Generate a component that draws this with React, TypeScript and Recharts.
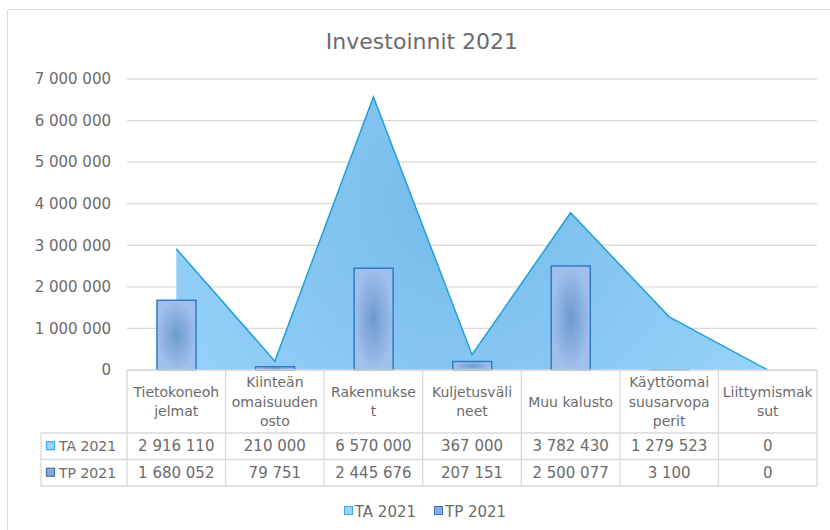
import { Area, Bar, CartesianGrid, ComposedChart, Legend, XAxis, YAxis } from "recharts"

const categories = [
  "Tietokoneohjelmat",
  "Kiinteän omaisuuden osto",
  "Rakennukset",
  "Kuljetusvälineet",
  "Muu kalusto",
  "Käyttöomaisuusarvopaperit",
  "Liittymismaksut",
]

// wrapped header labels, as in the data table
const categoryLines = [
  ["Tietokoneoh", "jelmat"],
  ["Kiinteän", "omaisuuden", "osto"],
  ["Rakennukse", "t"],
  ["Kuljetusväli", "neet"],
  ["Muu kalusto"],
  ["Käyttöomai", "suusarvopa", "perit"],
  ["Liittymismak", "sut"],
]

const ta2021 = [2916110, 210000, 6570000, 367000, 3782430, 1279523, 0]
const tp2021 = [1680052, 79751, 2445676, 207151, 2500077, 3100, 0]

const yTicks = [0, 1000000, 2000000, 3000000, 4000000, 5000000, 6000000, 7000000]

const data = categories.map((name, i) => ({ name, ta: ta2021[i], tp: tp2021[i] }))

const W = 830
const H = 530
const PLOT_LEFT = 127
const PLOT_RIGHT = 817
const PLOT_TOP = 79
const PLOT_BOTTOM = 370
const Y_AXIS_W = 110
const X_AXIS_H = 120
const BAND = (PLOT_RIGHT - PLOT_LEFT) / categories.length
const ROW_HEAD = 433
const ROW_TA = 459.5
const ROW_TP = 486
const TABLE_LEFT = 41

const FONT = "'DejaVu Sans', sans-serif"
const TEXT = "#6b6b6b"
const LINE = "#d9d9d9"

const fmt = (n: number) => n.toString().replace(/\B(?=(\d{3})+(?!\d))/g, " ")

function Key({ x, y, fill, stroke }: { x: number; y: number; fill: string; stroke: string }) {
  return <rect x={x} y={y - 4.5} width={8} height={8} fill={fill} stroke={stroke} strokeWidth={1.2} />
}

function TableColumn(props: any) {
  const i: number = props.index ?? props.payload.index
  const cx: number = props.x
  const x0 = cx - BAND / 2
  const x1 = cx + BAND / 2
  const lines = categoryLines[i]
  const lh = 19.5
  const startY = (PLOT_BOTTOM + ROW_HEAD) / 2 - ((lines.length - 1) * lh) / 2
  const taY = (ROW_HEAD + ROW_TA) / 2
  const tpY = (ROW_TA + ROW_TP) / 2

  return (
    <g fontFamily={FONT} fill={TEXT}>
      {i === 0 && (
        <g>
          <line x1={TABLE_LEFT} y1={ROW_HEAD} x2={TABLE_LEFT} y2={ROW_TP} stroke={LINE} strokeWidth={1.3} />
          <line x1={TABLE_LEFT} y1={ROW_HEAD} x2={x0} y2={ROW_HEAD} stroke={LINE} strokeWidth={1.3} />
          <line x1={TABLE_LEFT} y1={ROW_TA} x2={x0} y2={ROW_TA} stroke={LINE} strokeWidth={1.3} />
          <line x1={TABLE_LEFT} y1={ROW_TP} x2={x0} y2={ROW_TP} stroke={LINE} strokeWidth={1.3} />
          <Key x={46.5} y={taY} fill="#9dd3f7" stroke="#35a9e0" />
          <text x={59} y={taY} dominantBaseline="central" fontSize={14}>TA 2021</text>
          <Key x={46.5} y={tpY} fill="#8eaad9" stroke="#3b73b8" />
          <text x={59} y={tpY} dominantBaseline="central" fontSize={14}>TP 2021</text>
        </g>
      )}
      <line x1={x0} y1={PLOT_BOTTOM} x2={x1} y2={PLOT_BOTTOM} stroke={LINE} strokeWidth={1.3} />
      <line x1={x0} y1={PLOT_BOTTOM} x2={x0} y2={ROW_TP} stroke={LINE} strokeWidth={1.3} />
      {i === categories.length - 1 && (
        <line x1={x1} y1={PLOT_BOTTOM} x2={x1} y2={ROW_TP} stroke={LINE} strokeWidth={1.3} />
      )}
      <line x1={x0} y1={ROW_HEAD} x2={x1} y2={ROW_HEAD} stroke={LINE} strokeWidth={1.3} />
      <line x1={x0} y1={ROW_TA} x2={x1} y2={ROW_TA} stroke={LINE} strokeWidth={1.3} />
      <line x1={x0} y1={ROW_TP} x2={x1} y2={ROW_TP} stroke={LINE} strokeWidth={1.3} />
      {lines.map((t, k) => (
        <text key={k} x={cx} y={startY + k * lh} textAnchor="middle" dominantBaseline="central" fontSize={14}>
          {t}
        </text>
      ))}
      <text x={cx} y={taY} textAnchor="middle" dominantBaseline="central" fontSize={15}>
        {fmt(ta2021[i])}
      </text>
      <text x={cx} y={tpY} textAnchor="middle" dominantBaseline="central" fontSize={15}>
        {fmt(tp2021[i])}
      </text>
    </g>
  )
}

function LegendContent() {
  const key = (bg: string, border: string) => (
    <span
      style={{
        width: 7,
        height: 7,
        background: bg,
        border: `1.2px solid ${border}`,
        position: "relative",
        top: -1.5,
      }}
    />
  )
  return (
    <div
      style={{
        display: "flex",
        justifyContent: "center",
        gap: 18,
        fontFamily: FONT,
        fontSize: 15,
        color: TEXT,
        lineHeight: "20px",
        paddingLeft: 20,
      }}
    >
      <span style={{ display: "flex", alignItems: "center", gap: 2 }}>
        {key("#9dd3f7", "#35a9e0")}
        TA 2021
      </span>
      <span style={{ display: "flex", alignItems: "center", gap: 2 }}>
        {key("#8eaad9", "#3b73b8")}
        TP 2021
      </span>
    </div>
  )
}

export default function App() {
  return (
    <div style={{ position: "absolute", left: 0, top: 0, width: W, height: H, background: "#fff", overflow: "hidden" }}>
      <div
        style={{
          position: "absolute",
          left: 7,
          top: 9,
          width: W,
          height: H,
          border: "1.5px solid #d9d9d9",
          borderRadius: 2,
        }}
      />
      <div
        style={{
          position: "absolute",
          left: 0,
          top: 28,
          width: W,
          textAlign: "center",
          fontFamily: FONT,
          fontSize: 22,
          color: "#6b6b6b",
          lineHeight: "28px",
          paddingLeft: 14,
          boxSizing: "border-box",
        }}
      >
        Investoinnit 2021
      </div>
      <ComposedChart
        width={W}
        height={H}
        data={data}
        margin={{
          top: PLOT_TOP,
          right: W - PLOT_RIGHT,
          left: PLOT_LEFT - Y_AXIS_W,
          bottom: H - PLOT_BOTTOM - X_AXIS_H,
        }}
        style={{ position: "absolute", left: 0, top: 0 }}
      >
        <defs>
          <radialGradient id="taGrad" gradientUnits="userSpaceOnUse" cx={460} cy={200} r={430}>
            <stop offset="0%" stopColor="#74bbe8" />
            <stop offset="100%" stopColor="#a0d8ff" />
          </radialGradient>
          <radialGradient id="tpGrad" cx="0.5" cy="0.5" r="0.5">
            <stop offset="0%" stopColor="#6c9bce" />
            <stop offset="100%" stopColor="#a0bfec" />
          </radialGradient>
        </defs>
        <CartesianGrid vertical={false} stroke={LINE} strokeWidth={1.3} />
        <XAxis
          dataKey="name"
          height={X_AXIS_H}
          interval={0}
          axisLine={false}
          tickLine={false}
          tick={<TableColumn />}
        />
        <YAxis
          width={Y_AXIS_W}
          domain={[0, 7000000]}
          ticks={yTicks}
          tickFormatter={fmt}
          axisLine={false}
          tickLine={false}
          tickMargin={10}
          tick={{ fontSize: 15, fill: TEXT, fontFamily: FONT }}
        />
        <Legend
          layout="horizontal"
          verticalAlign="middle"
          align="center"
          wrapperStyle={{ top: 502, left: 0, width: W }}
          content={<LegendContent />}
        />
        <Area
          type="linear"
          dataKey="ta"
          name="TA 2021"
          stroke="#1fa0dc"
          strokeWidth={1.5}
          fill="url(#taGrad)"
          fillOpacity={1}
          isAnimationActive={false}
        />
        <Bar
          dataKey="tp"
          name="TP 2021"
          barSize={39}
          fill="url(#tpGrad)"
          stroke="#2f7cc4"
          strokeWidth={1.5}
          isAnimationActive={false}
        />
      </ComposedChart>
    </div>
  )
}
